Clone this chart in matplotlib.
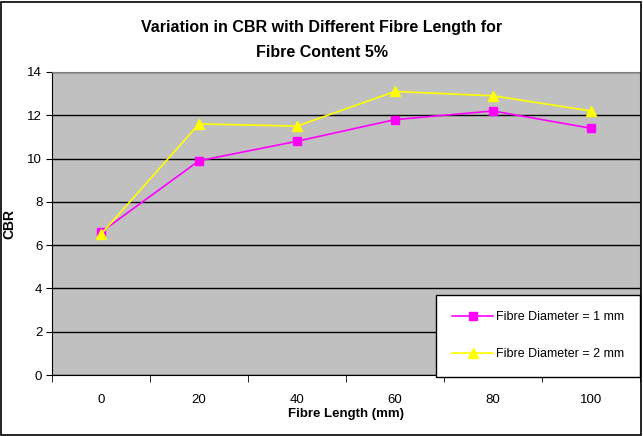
import matplotlib
matplotlib.use('Agg')
import matplotlib.pyplot as plt
import numpy as np

plt.rcParams['font.family'] = ['Liberation Sans', 'DejaVu Sans']

lengths = ['0', '20', '40', '60', '80', '100']
cbr_1mm = [6.6, 9.9, 10.8, 11.8, 12.2, 11.4]
cbr_2mm = [6.5, 11.6, 11.5, 13.1, 12.9, 12.2]

fig = plt.figure(figsize=(6.43, 4.36), dpi=100)
ax = fig.add_axes([52/643, 1 - 375/436, 588/643, 303/436])
ax.set_facecolor('#c0c0c0')

x = np.arange(len(lengths))
ax.plot(x, cbr_1mm, color='#ff00ff', marker='s', markersize=6, lw=1.2,
        label='Fibre Diameter = 1 mm')
ax.plot(x, cbr_2mm, color='#ffff00', marker='^', markersize=7, lw=1.2,
        label='Fibre Diameter = 2 mm')

ax.set_xlim(-0.5, 5.5)
ax.set_ylim(0, 14)
ax.set_yticks(range(0, 15, 2))
ax.yaxis.grid(True, color='black', lw=1)
ax.set_axisbelow(True)
ax.set_xticks(x)
ax.set_xticklabels(lengths)
ax.set_xticks(np.arange(-0.5, 6, 1), minor=True)
ax.tick_params(axis='x', which='major', length=0, pad=14, labelsize=9.5)
ax.tick_params(axis='x', which='minor', length=5, direction='out')
ax.tick_params(axis='y', length=4, labelsize=9.5, pad=3)
for s in ['top', 'right']:
    ax.spines[s].set_color('#808080')
ax.spines['left'].set_color('black')
ax.spines['bottom'].set_color('black')

ax.set_xlabel('Fibre Length (mm)', fontsize=9.5, fontweight='bold', labelpad=1)
ax.set_ylabel('CBR', fontsize=10, fontweight='bold', labelpad=8)
fig.suptitle('Variation in CBR with Different Fibre Length for\nFibre Content 5%',
             fontsize=11.5, fontweight='bold', y=0.955, linespacing=1.9)

leg = ax.legend(loc='lower right', bbox_to_anchor=(1.0, -0.005), fontsize=9,
                frameon=True, fancybox=False, edgecolor='black',
                facecolor='white', framealpha=1,
                borderpad=1.3, labelspacing=2.0, handlelength=3.3,
                handletextpad=0.2, borderaxespad=0)
leg.get_frame().set_linewidth(1)

fig.patches.append(plt.Rectangle((1/643, 1/436), 640/643, 433/436,
                                 transform=fig.transFigure, fill=False,
                                 edgecolor='black', lw=1.2))

fig.savefig('out.png', dpi=100)
